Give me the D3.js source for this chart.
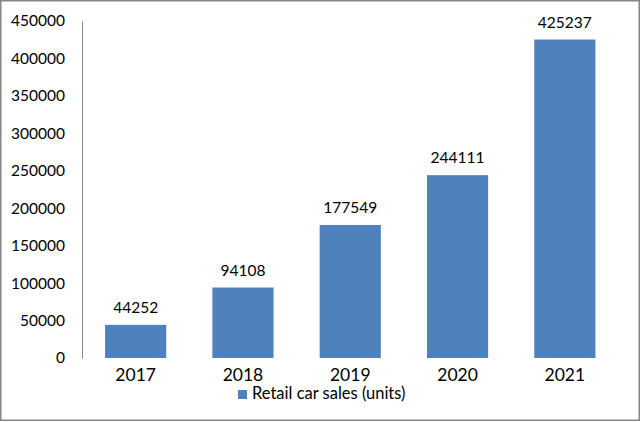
<!DOCTYPE html>
<html><head><meta charset="utf-8">
<script src="https://cdn.jsdelivr.net/npm/d3@7"></script>
<style>body{margin:0;background:#fff}svg{display:block}</style>
</head><body>
<script>
const categories = ["2017","2018","2019","2020","2021"];
const values = [44252, 94108, 177549, 244111, 425237];
const yTicks = [0,50000,100000,150000,200000,250000,300000,350000,400000,450000];
const seriesName = "Retail car sales (units)";

(function(){
const W = 640, H = 422;
const font = "Lato, 'Open Sans', sans-serif";
const svg = d3.select("body").append("svg").attr("width", W).attr("height", H);
svg.append("rect").attr("x",0.75).attr("y",0.75).attr("width",W-1.5).attr("height",H-2.5)
  .attr("fill","#fff").attr("stroke","#868686").attr("stroke-width",1.5);

const pl = 82, pr = 618.5, pt = 21, pb = 358;
const x = d3.scaleBand().domain(categories).range([pl, pr]).paddingInner(0.43).paddingOuter(0.215);
const y = d3.scaleLinear().domain([0, 450000]).range([pb, pt]);

const yAxis = svg.append("g").attr("transform", `translate(${pl},0)`)
  .call(d3.axisLeft(y).tickValues(yTicks).tickSize(0).tickPadding(17).tickFormat(d3.format("d")));
yAxis.select(".domain").attr("stroke","#868686").attr("stroke-width",1);
yAxis.selectAll("text").attr("font-family",font).attr("font-size","15.5px").attr("fill","#000");

svg.selectAll("rect.bar").data(values).enter().append("rect").attr("class","bar")
  .attr("x",(d,i)=>x(categories[i])).attr("width",x.bandwidth())
  .attr("y",d=>y(d)).attr("height",d=>pb-y(d)).attr("fill","#4F81BD");

svg.selectAll("text.val").data(values).enter().append("text").attr("class","val")
  .attr("x",(d,i)=>x(categories[i])+x.bandwidth()/2).attr("y",d=>y(d)-12)
  .attr("text-anchor","middle").attr("font-family",font).attr("font-size","15.5px").attr("fill","#000")
  .text(d=>d);

const xAxis = svg.append("g").attr("transform",`translate(0,${pb})`)
  .call(d3.axisBottom(x).tickSize(0).tickPadding(11));
xAxis.select(".domain").remove();
xAxis.selectAll("text").attr("font-family",font).attr("font-size","17.5px").attr("fill","#000");

const lg = svg.append("g");
lg.append("rect").attr("x",238).attr("y",390).attr("width",9).attr("height",9).attr("fill","#4F81BD");
lg.append("text").attr("x",252).attr("y",399).attr("font-family",font).attr("font-size","16.5px")
  .attr("fill","#000").text(seriesName);
})();
</script>
</body></html>
